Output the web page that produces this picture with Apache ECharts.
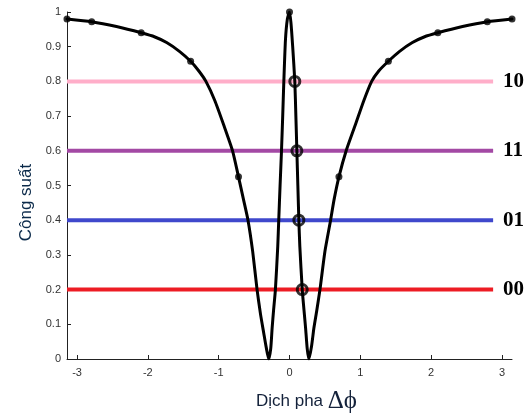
<!DOCTYPE html>
<html>
<head>
<meta charset="utf-8">
<script src="https://cdn.jsdelivr.net/npm/echarts@6/dist/echarts.min.js"></script>
<style>
  html, body { margin: 0; padding: 0; background: #fff; }
  #chart { width: 529px; height: 419px; }
</style>
</head>
<body>
<div id="chart"></div>
<script>
// du lieu doc tu hinh: duong cong cong suat theo dich pha
var curvePoints = [
  [-3.1416, 0.98], [-2.793, 0.972], [-2.443, 0.958], [-2.094, 0.94],
  [-1.90, 0.928], [-1.735, 0.912], [-1.55, 0.886], [-1.396, 0.858],
  [-1.28, 0.83], [-1.18, 0.80], [-1.055, 0.745], [-0.93, 0.675],
  [-0.804, 0.60], [-0.72, 0.525], [-0.65, 0.46], [-0.586, 0.40],
  [-0.52, 0.31], [-0.458, 0.20], [-0.41, 0.13], [-0.364, 0.075],
  [-0.33, 0.035], [-0.294, 0.0],
  [-0.265, 0.03], [-0.245, 0.09], [-0.225, 0.14], [-0.199, 0.20],
  [-0.166, 0.324], [-0.152, 0.40], [-0.133, 0.50], [-0.113, 0.60],
  [-0.096, 0.70], [-0.08, 0.80], [-0.057, 0.92], [-0.03, 0.98],
  [0, 1.0],
  [0.02, 0.97], [0.045, 0.90], [0.075, 0.80], [0.09, 0.70],
  [0.104, 0.60], [0.118, 0.50], [0.132, 0.40], [0.146, 0.324],
  [0.18, 0.20], [0.205, 0.14], [0.227, 0.09], [0.25, 0.03],
  [0.274, 0.0],
  [0.31, 0.035], [0.345, 0.09], [0.385, 0.14], [0.43, 0.20],
  [0.50, 0.31], [0.58, 0.40], [0.63, 0.46], [0.698, 0.525],
  [0.80, 0.60], [0.93, 0.675], [1.05, 0.745], [1.16, 0.80],
  [1.26, 0.83], [1.396, 0.858], [1.55, 0.886], [1.735, 0.912],
  [1.90, 0.928], [2.094, 0.94], [2.443, 0.958], [2.793, 0.972],
  [3.1416, 0.98]
];
var dotPoints = [
  [-3.1416, 0.98], [-2.793, 0.972], [-2.094, 0.94], [-1.396, 0.858],
  [-0.72, 0.525], [0, 1.0], [0.698, 0.525], [1.396, 0.858],
  [2.094, 0.94], [2.793, 0.972], [3.1416, 0.98]
];
var levelValues = [0.8, 0.6, 0.4, 0.2];
var levelCodes = ['10', '11', '01', '00'];
var levelColors = ['#FFAEC9', '#A349A4', '#3F48CC', '#ED1C24'];
var levelStart = -3.1416;
var levelEnd = 2.875;
var crossPoints = [[0.075, 0.8], [0.104, 0.6], [0.132, 0.4], [0.18, 0.2]];
var xTicks = [-3, -2, -1, 0, 1, 2, 3];

var myChart = echarts.init(document.getElementById('chart'));

var series = [];
// cac duong ngang muc cong suat
for (var i = 0; i < levelValues.length; i++) {
  series.push({
    type: 'line',
    data: [[levelStart, levelValues[i]], [levelEnd, levelValues[i]]],
    symbol: 'none',
    lineStyle: { color: levelColors[i], width: 4 },
    endLabel: {
      show: true,
      formatter: levelCodes[i],
      distance: 10,
      fontFamily: '"Liberation Serif", "Times New Roman", serif',
      fontWeight: 'bold',
      fontSize: 21,
      color: '#000'
    },
    silent: true,
    z: 2
  });
}
// duong cong
series.push({
  type: 'line',
  data: curvePoints,
  smooth: 0.2,
  symbol: 'none',
  lineStyle: { color: '#000', width: 3, join: 'round', cap: 'round' },
  z: 3
});
// cac cham tren duong cong
series.push({
  type: 'scatter',
  data: dotPoints,
  symbol: 'circle',
  symbolSize: 7,
  itemStyle: { color: '#000' },
  z: 4
});
// vong tron giao diem
series.push({
  type: 'scatter',
  data: crossPoints,
  symbol: 'circle',
  symbolSize: 10,
  itemStyle: { color: 'transparent', borderColor: '#000', borderWidth: 3 },
  z: 5
});

var option = {
  animation: false,
  grid: { left: 67, right: 17, top: 12, bottom: 50 },
  xAxis: {
    type: 'value',
    min: -Math.PI,
    max: Math.PI,
    name: '{a|Dịch pha }{b|Δϕ}',
    nameLocation: 'middle',
    nameGap: 30,
    nameTextStyle: {
      padding: [0, 0, 0, 34],
      rich: {
        a: { fontFamily: 'Arial, "Liberation Sans", sans-serif', fontSize: 17, color: '#13213a' },
        b: { fontFamily: '"Liberation Serif", "Times New Roman", serif', fontSize: 25, color: '#13213a' }
      }
    },
    axisLine: { onZero: false, lineStyle: { color: '#222', width: 1 } },
    axisTick: { inside: true, length: 4, customValues: xTicks, lineStyle: { color: '#222' } },
    axisLabel: {
      customValues: xTicks,
      color: '#333',
      fontSize: 11,
      fontFamily: 'Arial, "Liberation Sans", sans-serif',
      margin: 8
    },
    splitLine: { show: false }
  },
  yAxis: {
    type: 'value',
    min: 0,
    max: 1,
    interval: 0.1,
    name: 'Công suất',
    nameLocation: 'middle',
    nameGap: 31,
    nameTextStyle: {
      fontFamily: 'Arial, "Liberation Sans", sans-serif',
      fontSize: 17,
      color: '#0b2a4a',
      padding: [0, 0, 0, -34]
    },
    axisLine: { show: true, onZero: false, lineStyle: { color: '#222', width: 1 } },
    axisTick: { show: true, inside: true, length: 4, lineStyle: { color: '#222' } },
    axisLabel: {
      color: '#333',
      fontSize: 11,
      fontFamily: 'Arial, "Liberation Sans", sans-serif',
      margin: 6
    },
    splitLine: { show: false }
  },
  series: series
};

myChart.setOption(option);
</script>
</body>
</html>
